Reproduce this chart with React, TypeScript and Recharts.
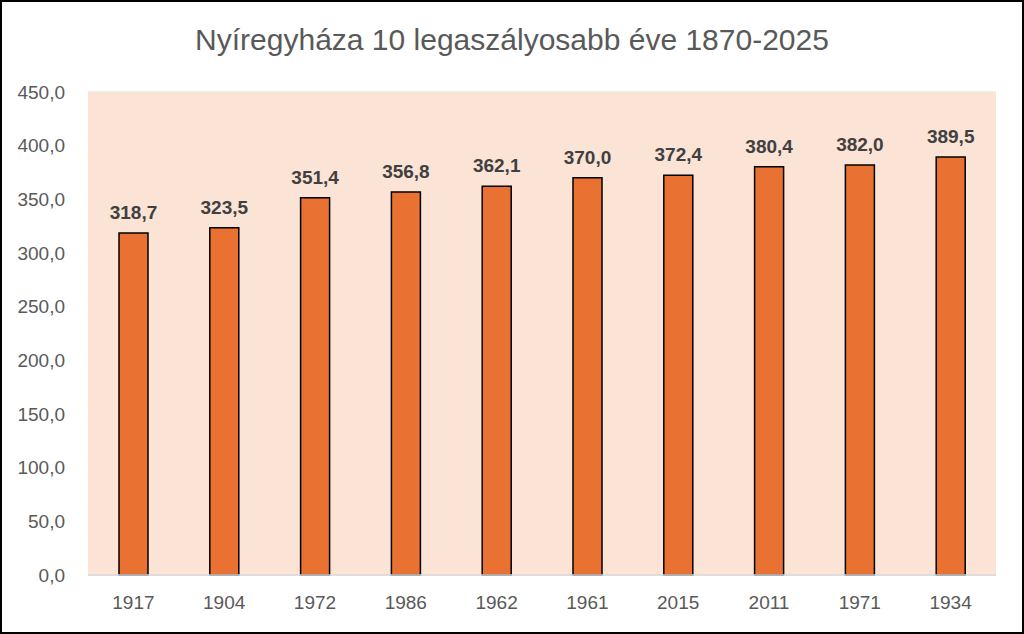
import { BarChart, Bar, XAxis, YAxis, CartesianGrid, LabelList } from 'recharts';

const years = ['1917', '1904', '1972', '1986', '1962', '1961', '2015', '2011', '1971', '1934'];
const rainfall = [318.7, 323.5, 351.4, 356.8, 362.1, 370.0, 372.4, 380.4, 382.0, 389.5];
const yTicks = [0, 50, 100, 150, 200, 250, 300, 350, 400, 450];

const data = years.map((y, i) => ({ year: y, value: rainfall[i] }));

const fmt = (v: number) => v.toFixed(1).replace('.', ',');
const FONT = '"Liberation Sans", Arial, sans-serif';

export default function App() {
  return (
    <div style={{ position: 'absolute', left: 0, top: 0, width: 1024, height: 634, background: '#fff', fontFamily: FONT }}>
      <div style={{
        position: 'absolute', left: 0, top: 22, width: 1024, textAlign: 'center',
        fontSize: 30, color: '#595959', fontFamily: FONT, lineHeight: '36px',
      }}>
        Nyíregyháza 10 legaszályosabb éve 1870-2025
      </div>
      <BarChart
        width={1024} height={634} data={data}
        margin={{ top: 92, right: 28, left: 0, bottom: 0 }}
        barSize={29}
        style={{ position: 'absolute', left: 0, top: 0 }}
      >
        <rect x={88} y={92} width={908} height={483} fill="#FBE3D6" />
        <CartesianGrid vertical={false} stroke="#EBEBEB" strokeWidth={1.3} fill="#FBE3D6" />
        <XAxis
          dataKey="year" height={59} axisLine={{ stroke: '#D9D9D9', strokeWidth: 1.3 }} tickLine={false}
          tick={{ fontSize: 19, fill: '#595959', fontFamily: FONT }} tickMargin={15}
        />
        <YAxis
          width={88} domain={[0, 450]} ticks={yTicks} tickFormatter={fmt}
          axisLine={false} tickLine={false} tickMargin={17}
          tick={{ fontSize: 19, fill: '#595959', fontFamily: FONT }}
        />
        <Bar dataKey="value" fill="#E97132" stroke="#000" strokeWidth={1.5} isAnimationActive={false}>
          <LabelList
            dataKey="value" position="top" offset={14} formatter={(v: any) => fmt(Number(v))}
            style={{ fontSize: 19, fontWeight: 700, fill: '#404040', fontFamily: FONT }}
          />
        </Bar>
      </BarChart>
      <div style={{
        position: 'absolute', left: 0, top: 0, width: 1024, height: 634,
        boxSizing: 'border-box', border: '2px solid #000', pointerEvents: 'none',
      }} />
    </div>
  );
}
